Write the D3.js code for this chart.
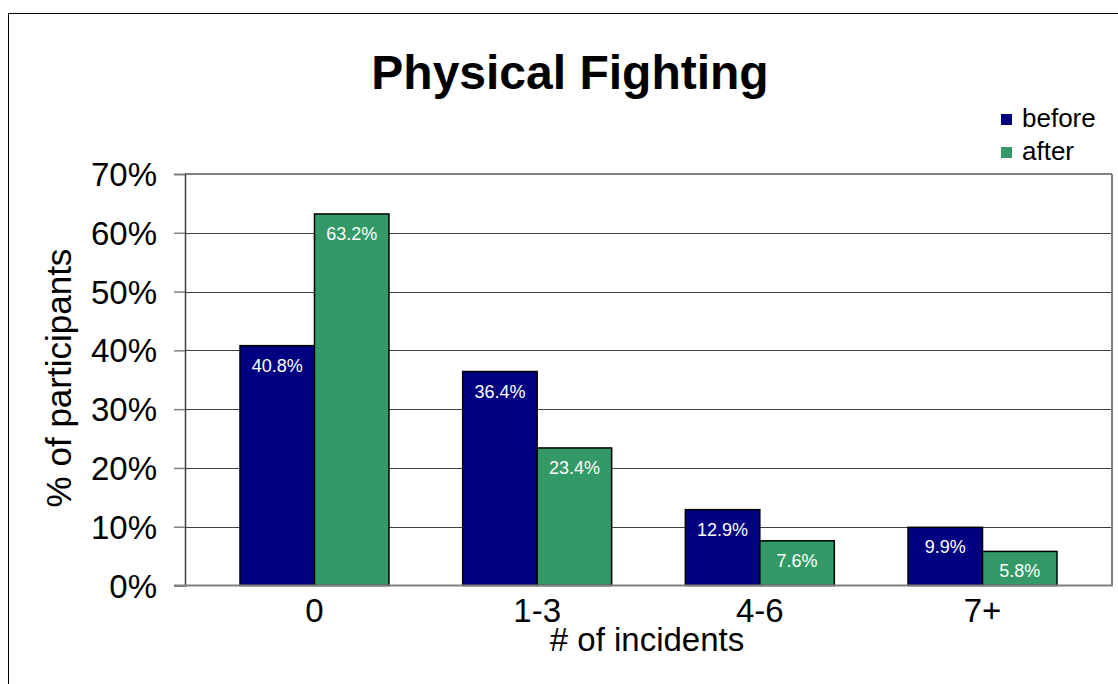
<!DOCTYPE html>
<html>
<head>
<meta charset="utf-8">
<script src="https://cdn.jsdelivr.net/npm/d3@7"></script>
<style>
  html, body { margin: 0; padding: 0; background: #fff; }
  svg { display: block; }
  text { font-family: "Liberation Sans", Arial, sans-serif; }
</style>
</head>
<body>
<svg id="chart" width="1118" height="684"></svg>
<script>
const categories = ["0", "1-3", "4-6", "7+"];
const seriesNames = ["before", "after"];
const beforeValues = [40.8, 36.4, 12.9, 9.9];
const afterValues = [63.2, 23.4, 7.6, 5.8];
const yTicks = [0, 10, 20, 30, 40, 50, 60, 70];
const colors = ["#000080", "#339966"];

const svg = d3.select("#chart");
const W = 1118, H = 684;
const plot = { left: 185, right: 1112, top: 174, bottom: 585.5 };

// outer chart border
svg.append("rect")
  .attr("x", 8.5).attr("y", 13.5)
  .attr("width", W + 20).attr("height", H + 20)
  .attr("fill", "none").attr("stroke", "#000").attr("stroke-width", 1);

const y = d3.scaleLinear().domain([0, 70]).range([plot.bottom, plot.top]);
const x = d3.scaleBand().domain(categories).range([plot.left, plot.right])
  .paddingInner(0.331).paddingOuter(0.247);
const xs = d3.scaleBand().domain(seriesNames).range([0, x.bandwidth()]);

// gridlines
svg.append("g").selectAll("line")
  .data(yTicks.filter(t => t > 0 && t < 70))
  .join("line")
  .attr("x1", plot.left).attr("x2", plot.right)
  .attr("y1", d => Math.round(y(d)) + 0.5).attr("y2", d => Math.round(y(d)) + 0.5)
  .attr("stroke", "#404040").attr("stroke-width", 1);

// plot area border top/right (gray)
svg.append("line").attr("x1", plot.left).attr("x2", plot.right)
  .attr("y1", plot.top).attr("y2", plot.top)
  .attr("stroke", "#808080").attr("stroke-width", 2);
svg.append("line").attr("x1", plot.right).attr("x2", plot.right)
  .attr("y1", plot.top).attr("y2", plot.bottom)
  .attr("stroke", "#808080").attr("stroke-width", 2);

// bars
const data = categories.map((c, i) => ({ cat: c, vals: [beforeValues[i], afterValues[i]] }));
const groups = svg.append("g").selectAll("g")
  .data(data).join("g")
  .attr("transform", d => `translate(${x(d.cat)},0)`);

groups.selectAll("rect")
  .data(d => d.vals.map((v, j) => ({ v, s: seriesNames[j], j })))
  .join("rect")
  .attr("x", d => xs(d.s))
  .attr("width", xs.bandwidth())
  .attr("y", d => y(d.v))
  .attr("height", d => y(0) - y(d.v))
  .attr("fill", d => colors[d.j])
  .attr("stroke", "#000").attr("stroke-width", 1.5);

groups.selectAll("text.lbl")
  .data(d => d.vals.map((v, j) => ({ v, s: seriesNames[j], j })))
  .join("text")
  .attr("class", "lbl")
  .attr("x", d => xs(d.s) + xs.bandwidth() / 2)
  .attr("y", d => y(d.v) + 26)
  .attr("text-anchor", "middle")
  .attr("fill", "#fff")
  .attr("font-size", 18)
  .text(d => d.v.toFixed(1) + "%");

// y axis
const yAxis = d3.axisLeft(y).tickValues(yTicks).tickSize(11).tickFormat(d => d + "%");
const gy = svg.append("g").attr("transform", `translate(${plot.left},0)`).call(yAxis);
gy.select(".domain").attr("stroke", "#404040").attr("stroke-width", 1.5);
gy.selectAll(".tick line").attr("stroke", "#808080").attr("stroke-width", 1.5);
gy.selectAll(".tick text")
  .attr("x", -28).attr("dy", "0.35em")
  .attr("font-size", 33).attr("fill", "#000")
  .attr("font-family", "Liberation Sans, Arial, sans-serif");

// x axis line
svg.append("line").attr("x1", plot.left - 11).attr("x2", plot.right + 1)
  .attr("y1", plot.bottom).attr("y2", plot.bottom)
  .attr("stroke", "#808080").attr("stroke-width", 2);

// x tick labels
const xAxis = d3.axisBottom(x).tickSize(0);
const gx = svg.append("g").attr("transform", `translate(0,${plot.bottom})`).call(xAxis);
gx.select(".domain").remove();
gx.selectAll(".tick text")
  .attr("y", 0).attr("dy", 0)
  .attr("transform", "translate(0,36)")
  .attr("font-size", 33).attr("fill", "#000")
  .attr("font-family", "Liberation Sans, Arial, sans-serif");

// title
svg.append("text").attr("x", 570).attr("y", 89)
  .attr("text-anchor", "middle").attr("font-size", 48).attr("font-weight", "bold")
  .text("Physical Fighting");

// axis titles
svg.append("text").attr("x", 647).attr("y", 651)
  .attr("text-anchor", "middle").attr("font-size", 33)
  .text("# of incidents");
svg.append("text")
  .attr("transform", "translate(71,378) rotate(-90)")
  .attr("text-anchor", "middle").attr("font-size", 35)
  .text("% of participants");

// legend
const legend = svg.append("g");
seriesNames.forEach((s, i) => {
  const by = 127 + i * 33;
  legend.append("rect").attr("x", 1001).attr("y", by - 13).attr("width", 11).attr("height", 11)
    .attr("fill", colors[i]);
  legend.append("text").attr("x", 1022).attr("y", by).attr("font-size", 26).text(s);
});
</script>
</body>
</html>
